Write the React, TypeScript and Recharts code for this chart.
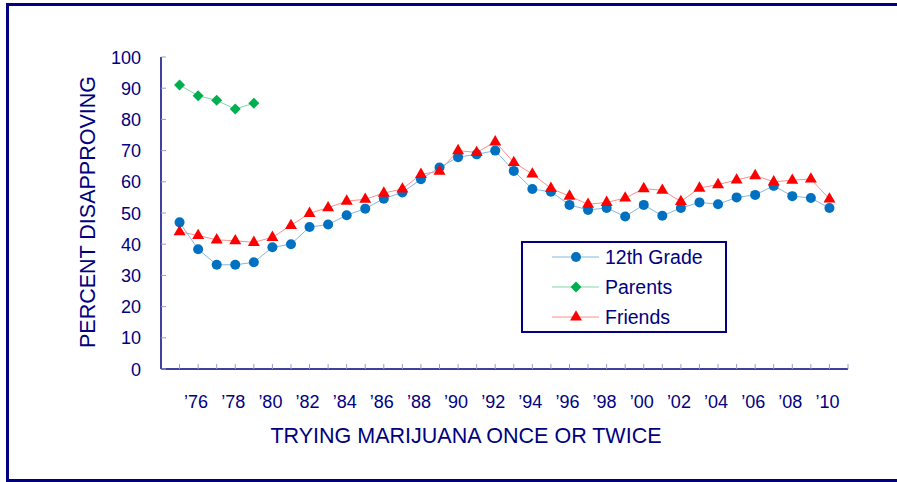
import React from 'react';
import { LineChart, Line, XAxis, YAxis } from 'recharts';

const years = [1975, 1976, 1977, 1978, 1979, 1980, 1981, 1982, 1983, 1984, 1985, 1986, 1987, 1988, 1989, 1990, 1991, 1992, 1993, 1994, 1995, 1996, 1997, 1998, 1999, 2000, 2001, 2002, 2003, 2004, 2005, 2006, 2007, 2008, 2009, 2010];
const grade12 = [47.0, 38.4, 33.4, 33.4, 34.2, 39.0, 40.0, 45.5, 46.3, 49.3, 51.4, 54.6, 56.6, 60.8, 64.6, 67.9, 68.8, 70.0, 63.5, 57.7, 56.8, 52.6, 51.0, 51.6, 48.9, 52.6, 49.1, 51.6, 53.4, 52.8, 55.0, 55.8, 58.7, 55.4, 54.8, 51.6];
const parents = [91.0, 87.6, 86.1, 83.3, 85.2];
const friends = [44.0, 42.8, 41.4, 41.1, 40.6, 42.2, 46.0, 49.9, 51.7, 53.8, 54.4, 56.4, 57.7, 62.4, 63.4, 70.0, 69.4, 72.8, 66.2, 62.5, 57.9, 55.4, 52.8, 53.4, 54.8, 57.8, 57.3, 53.7, 58.0, 59.1, 60.6, 62.0, 60.0, 60.5, 60.9, 54.5];

const xTickYears = [1975, 1976, 1977, 1978, 1979, 1980, 1981, 1982, 1983, 1984, 1985, 1986, 1987, 1988, 1989, 1990, 1991, 1992, 1993, 1994, 1995, 1996, 1997, 1998, 1999, 2000, 2001, 2002, 2003, 2004, 2005, 2006, 2007, 2008, 2009, 2010, 2011];
const xLabelYears = [1976, 1978, 1980, 1982, 1984, 1986, 1988, 1990, 1992, 1994, 1996, 1998, 2000, 2002, 2004, 2006, 2008, 2010];
const yTicks = [0, 10, 20, 30, 40, 50, 60, 70, 80, 90, 100];

const seriesNames = ['12th Grade', 'Parents', 'Friends'];

const data = years.map((year, i) => ({
  year,
  grade12: grade12[i],
  parents: i < parents.length ? parents[i] : null,
  friends: friends[i],
}));

const NAVY = '#000080';
const TICK = '#9C9CC4';
const FONT = '"Liberation Sans", Arial, sans-serif';

const BLUE = '#0070C0';
const BLUE_LINE = '#86B6E2';
const GREEN = '#00B050';
const GREEN_LINE = '#80D8A8';
const RED = '#FF0000';
const RED_LINE = '#FF8C8C';

const Circle = ({ cx, cy, color }: any) => <circle cx={cx} cy={cy} r={5} fill={color} />;
const Diamond = ({ cx, cy, color }: any) => (
  <path d={`M${cx},${cy - 5.5}L${cx + 5.5},${cy}L${cx},${cy + 5.5}L${cx - 5.5},${cy}Z`} fill={color} />
);
const Triangle = ({ cx, cy, color }: any) => (
  <path d={`M${cx},${cy - 6.8}L${cx + 6},${cy + 3.6}L${cx - 6},${cy + 3.6}Z`} fill={color} />
);

const makeDot = (Shape: any, color: string) => (props: any) => {
  const { cx, cy, value, index } = props;
  if (value == null || cx == null || cy == null || isNaN(cy)) return <g key={`d-${index}`} />;
  return <Shape key={`d-${index}`} cx={cx} cy={cy} color={color} />;
};

const fmtYear = (y: number) => '\u2019' + String(y % 100).padStart(2, '0');

const XTick = (props: any) => {
  const { x, y, payload } = props;
  const v = payload.value;
  return (
    <g>
      <line x1={x} x2={x} y1={y} y2={y - 5} stroke={TICK} strokeWidth={1} />
      {xLabelYears.includes(v) && (
        <text x={x - 2} y={y + 39} textAnchor="middle" fontSize={18} fontFamily={FONT} fill={NAVY}>
          {fmtYear(v)}
        </text>
      )}
    </g>
  );
};

const YTick = (props: any) => {
  const { x, y, payload } = props;
  return (
    <g>
      <line x1={x} x2={x + 5} y1={y} y2={y} stroke={TICK} strokeWidth={1} />
      <text x={x - 20} y={y + 6.5} textAnchor="end" fontSize={18} fontFamily={FONT} fill={NAVY}>
        {payload.value}
      </text>
    </g>
  );
};

const legendItems = [
  { name: seriesNames[0], Shape: Circle, color: BLUE, line: BLUE_LINE },
  { name: seriesNames[1], Shape: Diamond, color: GREEN, line: GREEN_LINE },
  { name: seriesNames[2], Shape: Triangle, color: RED, line: RED_LINE },
];

const LegendBox = () => (
  <svg width={206} height={92} style={{ display: 'block' }}>
    <rect x={1} y={1} width={204} height={90} fill="#fff" stroke={NAVY} strokeWidth={2} />
    {legendItems.map((it, i) => {
      const cy = 16 + i * 30;
      return (
        <g key={it.name}>
          <line x1={31} x2={78} y1={cy} y2={cy} stroke={it.line} strokeWidth={1} />
          <it.Shape cx={55} cy={cy} color={it.color} />
          <text x={84} y={cy + 7} fontSize={19.5} fontFamily={FONT} fill={NAVY}>
            {it.name}
          </text>
        </g>
      );
    })}
  </svg>
);

export default function App() {
  return (
    <div style={{ position: 'absolute', left: 0, top: 0, width: 897, height: 482, overflow: 'hidden', background: '#fff' }}>
      <div
        style={{
          position: 'absolute',
          left: 6,
          top: 3,
          width: 940,
          height: 473,
          border: `3px solid ${NAVY}`,
          boxSizing: 'content-box',
        }}
      />
      <div style={{ position: 'absolute', left: 0, top: 0 }}>
        <LineChart
          width={897}
          height={482}
          data={data}
          margin={{ top: 57, right: 49, bottom: 53, left: 0 }}
        >
          <XAxis
            dataKey="year"
            type="number"
            domain={[1974, 2011]}
            ticks={xTickYears}
            interval={0}
            height={60}
            tickSize={0}
            tickMargin={0}
            tickLine={false}
            axisLine={{ stroke: NAVY, strokeWidth: 1.5 }}
            tick={<XTick />}
            allowDataOverflow
            label={{
              content: () => (
                <text x={466} y={443} textAnchor="middle" fontSize={21.5} fontFamily={FONT} fill={NAVY}>
                  TRYING MARIJUANA ONCE OR TWICE
                </text>
              ),
            }}
          />
          <YAxis
            type="number"
            domain={[0, 100]}
            ticks={yTicks}
            interval={0}
            width={161}
            tickSize={0}
            tickMargin={0}
            tickLine={false}
            axisLine={{ stroke: NAVY, strokeWidth: 1.5 }}
            tick={<YTick />}
            label={{
              content: () => (
                <text
                  x={95}
                  y={212}
                  transform="rotate(-90 95 212)"
                  textAnchor="middle"
                  fontSize={21.5}
                  fontFamily={FONT}
                  fill={NAVY}
                >
                  PERCENT DISAPPROVING
                </text>
              ),
            }}
          />
          <Line
            name={seriesNames[0]}
            dataKey="grade12"
            stroke={BLUE_LINE}
            strokeWidth={1}
            dot={makeDot(Circle, BLUE)}
            activeDot={false}
            isAnimationActive={false}
          />
          <Line
            name={seriesNames[1]}
            dataKey="parents"
            stroke={GREEN_LINE}
            strokeWidth={1}
            dot={makeDot(Diamond, GREEN)}
            activeDot={false}
            isAnimationActive={false}
          />
          <Line
            name={seriesNames[2]}
            dataKey="friends"
            stroke={RED_LINE}
            strokeWidth={1}
            dot={makeDot(Triangle, RED)}
            activeDot={false}
            isAnimationActive={false}
          />
        </LineChart>
      </div>
      <div style={{ position: 'absolute', left: 521, top: 241, width: 206, height: 92 }}>
        <LegendBox />
      </div>
    </div>
  );
}
